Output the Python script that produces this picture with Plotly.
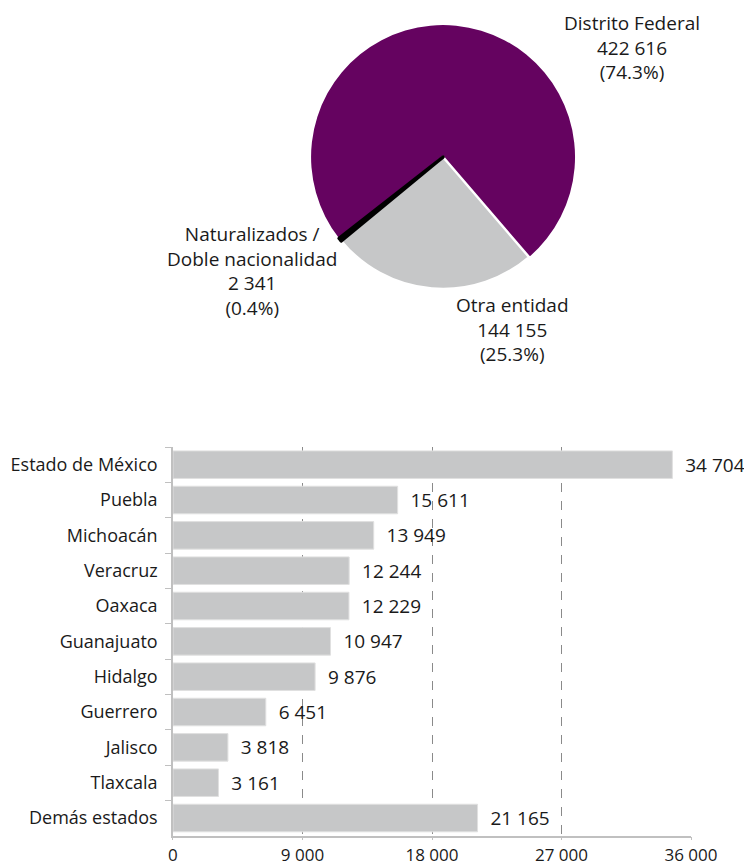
import plotly.graph_objs as go

# pie: origin of registrants
pie_labels = ["Distrito Federal", "Otra entidad", "Naturalizados /<br>Doble nacionalidad"]
pie_values = [422616, 144155, 2341]
pie_colors = ["#650360", "#c6c7c8", "#000000"]

# bars: states
states = ["Estado de México", "Puebla", "Michoacán", "Veracruz", "Oaxaca", "Guanajuato",
          "Hidalgo", "Guerrero", "Jalisco", "Tlaxcala", "Demás estados"]
state_values = [34704, 15611, 13949, 12244, 12229, 10947, 9876, 6451, 3818, 3161, 21165]
x_ticks = [0, 9000, 18000, 27000, 36000]

FONT = "Open Sans"
TXT = "#1a1a1a"


def fmt(v):
    return f"{v:,}".replace(",", " ")


def main():
    fig = go.Figure()

    # black slice drawn last with a black outline so it stays visible
    fig.add_trace(go.Pie(
        labels=pie_labels, values=pie_values, sort=False, direction="clockwise",
        rotation=232, textinfo="none", hoverinfo="label+value+percent",
        marker=dict(colors=pie_colors,
                    line=dict(color=["white", "white", "black"], width=[0, 2.5, 3.5])),
        domain=dict(x=[0.418, 0.773], y=[0.6663, 0.9711]), showlegend=False,
    ))

    total = sum(pie_values)
    # label centres (paper coords) for each pie slice
    label_pos = [(0.849, 0.9457), (0.6895, 0.619), (0.3387, 0.6865)]
    for lab, val, (ax, ay) in zip(pie_labels, pie_values, label_pos):
        pct = 100 * val / total
        fig.add_annotation(
            x=ax, y=ay, xref="paper", yref="paper", showarrow=False,
            xanchor="center", yanchor="middle",
            text=f"{lab}<br>{fmt(val)}<br>({pct:.1f}%)", align="center",
            font=dict(family=FONT, size=19, color=TXT),
        )

    fig.add_trace(go.Bar(
        x=state_values, y=states, orientation="h",
        marker=dict(color="#c6c7c8", line=dict(color="#e0e0e0", width=1)),
        texttemplate="\u00a0\u00a0%{x:,d}", textposition="outside",
        textfont=dict(family=FONT, size=19, color=TXT), cliponaxis=False,
        xaxis="x", yaxis="y", showlegend=False,
    ))

    fig.update_layout(
        template="none",
        width=744, height=866, autosize=False, margin=dict(l=0, r=0, t=0, b=0, pad=0),
        paper_bgcolor="white", plot_bgcolor="white",
        separators=". ", bargap=0.22,
        font=dict(family=FONT, size=18, color=TXT),
        xaxis=dict(domain=[0.2325, 0.9288], range=[0, 36000], tickvals=x_ticks,
                   ticktext=[fmt(t) for t in x_ticks], showgrid=True, automargin=False,
                   gridcolor="#8a8a8a", griddash="dash", gridwidth=1,
                   showline=True, linecolor="#c0c0c0", linewidth=1.5,
                   ticks="outside", ticklen=3, tickcolor="#c0c0c0",
                   zeroline=False, tickfont=dict(size=17, color=TXT)),
        yaxis=dict(domain=[0.035, 0.4838], autorange="reversed", showline=True,
                   automargin=False, showgrid=False, zeroline=False,
                   linecolor="#c0c0c0", linewidth=1.5, ticks="outside", ticklen=6,
                   tickcolor="#c0c0c0", tickson="boundaries", ticklabelstandoff=10,
                   tickfont=dict(size=18, color=TXT)),
    )

    fig.write_html("out.html", config={"responsive": False, "displayModeBar": False},
                   post_script="document.body.style.margin='0';document.body.style.overflow='hidden';")


if __name__ == "__main__":
    main()
